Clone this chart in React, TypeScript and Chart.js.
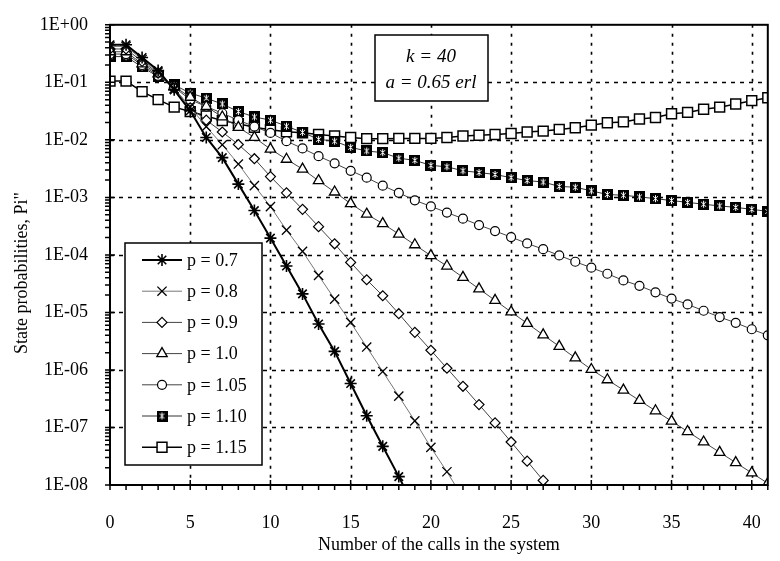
import React, { useEffect, useRef } from 'react';
import { Chart, registerables } from 'chart.js';
import { drawPoint } from 'chart.js/helpers';

Chart.register(...registerables);

// ---------- data ----------
const calls = [0, 1, 2, 3, 4, 5, 6, 7, 8, 9, 10, 11, 12, 13, 14, 15, 16, 17, 18, 19, 20,
  21, 22, 23, 24, 25, 26, 27, 28, 29, 30, 31, 32, 33, 34, 35, 36, 37, 38, 39, 40, 41];

const seriesLabels = ['p = 0.7', 'p = 0.8', 'p = 0.9', 'p = 1.0', 'p = 1.05', 'p = 1.10', 'p = 1.15'];

const p070 = [0.45, 0.45, 0.27, 0.16, 0.074, 0.032, 0.011, 0.0049, 0.0017, 5.9e-4, 1.96e-4, 6.4e-5,
  2.1e-5, 6.3e-6, 2.1e-6, 5.8e-7, 1.6e-7, 4.7e-8, 1.4e-8, 3.9e-9];
const p080 = [0.42, 0.42, 0.25, 0.15, 0.078, 0.037, 0.017, 0.0082, 0.0038, 0.0016, 6.9e-4, 2.7e-4,
  1.15e-4, 4.4e-5, 1.7e-5, 6.7e-6, 2.5e-6, 9.4e-7, 3.5e-7, 1.3e-7, 4.5e-8, 1.7e-8, 6.0e-9];
const p090 = [0.38, 0.38, 0.23, 0.145, 0.08, 0.036, 0.022, 0.0137, 0.0083, 0.0047, 0.0023, 0.0012,
  6.2e-4, 3.1e-4, 1.56e-4, 7.4e-5, 3.7e-5, 1.95e-5, 9.5e-6, 4.5e-6, 2.2e-6, 1.07e-6, 5.2e-7, 2.5e-7,
  1.2e-7, 5.6e-8, 2.6e-8, 1.2e-8, 5.5e-9];
const p100 = [0.34, 0.34, 0.21, 0.14, 0.085, 0.055, 0.038, 0.025, 0.0165, 0.011, 0.0069, 0.0046,
  0.0031, 0.00195, 0.00124, 7.8e-4, 5.1e-4, 3.5e-4, 2.3e-4, 1.5e-4, 9.7e-5, 6.4e-5, 4.07e-5, 2.57e-5,
  1.62e-5, 1.02e-5, 6.46e-6, 4.07e-6, 2.57e-6, 1.62e-6, 1.02e-6, 6.76e-7, 4.47e-7, 2.95e-7, 1.95e-7,
  1.29e-7, 8.5e-8, 5.6e-8, 3.7e-8, 2.45e-8, 1.62e-8, 1.07e-8];
const p105 = [0.31, 0.31, 0.2, 0.13, 0.082, 0.05, 0.038, 0.029, 0.022, 0.017, 0.0132, 0.0095,
  0.0071, 0.0052, 0.0039, 0.0029, 0.0022, 0.0016, 0.0012, 8.9e-4, 6.97e-4, 5.45e-4, 4.27e-4, 3.3e-4,
  2.6e-4, 2.04e-4, 1.58e-4, 1.26e-4, 9.8e-5, 7.6e-5, 6.0e-5, 4.7e-5, 3.6e-5, 2.9e-5, 2.24e-5,
  1.74e-5, 1.38e-5, 1.07e-5, 8.3e-6, 6.6e-6, 5.1e-6, 4.0e-6];
const p110 = [0.28, 0.28, 0.185, 0.125, 0.09, 0.065, 0.053, 0.042, 0.031, 0.025, 0.022, 0.0173,
  0.0135, 0.0102, 0.0095, 0.0074, 0.0064, 0.006, 0.0048, 0.0044, 0.0036, 0.0034, 0.0029, 0.0027,
  0.0025, 0.0022, 0.00196, 0.00185, 0.00155, 0.0015, 0.0013, 0.00112, 0.00109, 0.00102, 9.5e-4,
  8.8e-4, 8.2e-4, 7.6e-4, 7.1e-4, 6.7e-4, 6.2e-4, 5.7e-4];
const p115 = [0.105, 0.105, 0.069, 0.05, 0.037, 0.031, 0.026, 0.0216, 0.019, 0.0166, 0.015, 0.0138,
  0.0133, 0.0124, 0.0117, 0.011, 0.0105, 0.0105, 0.0106, 0.0106, 0.0106, 0.011, 0.0117, 0.012,
  0.0124, 0.0129, 0.0137, 0.0142, 0.0152, 0.0162, 0.018, 0.0198, 0.0205, 0.023, 0.0245, 0.0285,
  0.03, 0.034, 0.037, 0.042, 0.048, 0.054];

const seriesValues = [p070, p080, p090, p100, p105, p110, p115];

const xTickStep = 5;
const yMin = 1e-8;
const yMax = 1;
const xMax = 41;
const noteLines = ['k = 40', 'a = 0.65 erl'];
const xTitle = 'Number of the calls in the system';
const yTitle = 'State probabilities, Pi"';

// ---------- styles ----------
const FONT = "'Liberation Serif', 'Times New Roman', serif";

function makeStarSquare(): HTMLCanvasElement {
  const c = document.createElement('canvas');
  c.width = 11;
  c.height = 11;
  const m = c.getContext('2d')!;
  m.fillStyle = '#000';
  m.fillRect(0, 0, 11, 11);
  m.strokeStyle = '#fff';
  m.lineWidth = 1;
  m.beginPath();
  m.moveTo(3, 3); m.lineTo(8, 8);
  m.moveTo(8, 3); m.lineTo(3, 8);
  m.moveTo(5.5, 2); m.lineTo(5.5, 9);
  m.stroke();
  return c;
}

function fmtExp(v: number): string {
  const l = Math.log10(v);
  const e = Math.round(l);
  if (Math.abs(l - e) > 1e-6) return '';
  const a = Math.abs(e);
  return '1E' + (e < 0 ? '-' : '+') + (a < 10 ? '0' : '') + a;
}

export default function App() {
  const ref = useRef<HTMLCanvasElement>(null);

  useEffect(() => {
    const canvas = ref.current!;
    const starSquare = makeStarSquare();

    const styles: any[] = [
      { pointStyle: 'star', radius: 6, bw: 1.6, bg: '#000', line: '#000', lw: 2 },
      { pointStyle: 'crossRot', radius: 6.5, bw: 1.3, bg: '#000', line: '#777', lw: 1 },
      { pointStyle: 'rectRot', radius: 5, bw: 1.2, bg: '#fff', line: '#444', lw: 1 },
      { pointStyle: 'triangle', radius: 6, bw: 1.3, bg: '#fff', line: '#444', lw: 1 },
      { pointStyle: 'circle', radius: 4.5, bw: 1.2, bg: '#fff', line: '#444', lw: 1 },
      { pointStyle: starSquare, radius: 6, bw: 0, bg: '#000', line: '#333', lw: 1 },
      { pointStyle: 'rect', radius: 7, bw: 1.5, bg: '#fff', line: '#000', lw: 1.5 },
    ];

    const datasets = seriesValues.map((vals, si) => ({
      label: seriesLabels[si],
      data: vals.map((v, i) => ({ x: calls[i], y: v })),
      borderColor: styles[si].line,
      borderWidth: styles[si].lw,
      pointStyle: styles[si].pointStyle,
      pointRadius: styles[si].radius,
      pointBorderWidth: styles[si].bw,
      pointBorderColor: '#000',
      pointBackgroundColor: styles[si].bg,
      tension: 0,
      fill: false,
    }));

    const decorPlugin = {
      id: 'decor',
      beforeDatasetsDraw(chart: any) {
        const { ctx, chartArea: a, scales } = chart;
        const x = scales.x;
        const y = scales.y;
        ctx.save();
        ctx.strokeStyle = '#000';
        ctx.lineWidth = 1.6;
        ctx.setLineDash([4, 5]);
        for (let e = -7; e <= -1; e++) {
          const py = Math.round(y.getPixelForValue(Math.pow(10, e))) + 0.5;
          ctx.beginPath(); ctx.moveTo(a.left, py); ctx.lineTo(a.right, py); ctx.stroke();
        }
        ctx.setLineDash([3, 6]);
        for (let v = xTickStep; v < xMax; v += xTickStep) {
          const px = Math.round(x.getPixelForValue(v)) + 0.5;
          ctx.beginPath(); ctx.moveTo(px, a.top); ctx.lineTo(px, a.bottom); ctx.stroke();
        }
        ctx.restore();
      },
      afterDatasetsDraw(chart: any) {
        const { ctx, chartArea: a, scales } = chart;
        const x = scales.x;
        const y = scales.y;
        ctx.save();
        ctx.setLineDash([]);
        ctx.strokeStyle = '#000';
        ctx.lineWidth = 2;
        ctx.strokeRect(a.left, a.top, a.right - a.left, a.bottom - a.top);
        ctx.lineWidth = 1.5;
        ctx.beginPath();
        for (let e = -8; e <= 0; e++) {
          const py = y.getPixelForValue(Math.pow(10, e));
          ctx.moveTo(a.left - 5, py); ctx.lineTo(a.left + 5, py);
          if (e < 0) {
            for (let m = 2; m <= 9; m++) {
              const pm = y.getPixelForValue(m * Math.pow(10, e));
              ctx.moveTo(a.left - 5, pm); ctx.lineTo(a.left, pm);
            }
          }
        }
        for (let v = 0; v <= xMax; v++) {
          const px = x.getPixelForValue(v);
          if (v % xTickStep === 0) {
            ctx.moveTo(px, a.bottom - 5); ctx.lineTo(px, a.bottom + 5);
          } else {
            ctx.moveTo(px, a.bottom); ctx.lineTo(px, a.bottom + 5);
          }
        }
        ctx.stroke();

        // annotation box
        ctx.fillStyle = '#fff';
        ctx.fillRect(375, 35, 113, 66);
        ctx.lineWidth = 1.5;
        ctx.strokeRect(375, 35, 113, 66);
        ctx.fillStyle = '#000';
        ctx.font = `italic 19px ${FONT}`;
        ctx.textAlign = 'center';
        ctx.textBaseline = 'middle';
        ctx.fillText(noteLines[0], 431, 57);
        ctx.fillText(noteLines[1], 431, 83);

        // legend
        ctx.fillStyle = '#fff';
        ctx.fillRect(125, 243, 137, 222);
        ctx.strokeStyle = '#000';
        ctx.lineWidth = 1.5;
        ctx.strokeRect(125, 243, 137, 222);
        ctx.font = `18px ${FONT}`;
        ctx.textAlign = 'left';
        ctx.textBaseline = 'middle';
        chart.data.datasets.forEach((ds: any, i: number) => {
          const ly = 260 + i * 31.2;
          ctx.strokeStyle = ds.borderColor;
          ctx.lineWidth = ds.borderWidth;
          ctx.beginPath(); ctx.moveTo(142, ly); ctx.lineTo(182, ly); ctx.stroke();
          ctx.strokeStyle = '#000';
          ctx.fillStyle = ds.pointBackgroundColor;
          ctx.lineWidth = ds.pointBorderWidth;
          drawPoint(ctx, { pointStyle: ds.pointStyle, rotation: 0, radius: ds.pointRadius, borderWidth: ds.pointBorderWidth }, 162, ly);
          ctx.fillStyle = '#000';
          ctx.fillText(ds.label, 187, ly + 1);
        });

        // y title
        ctx.save();
        ctx.translate(22, 273);
        ctx.rotate(-Math.PI / 2);
        ctx.font = `18px ${FONT}`;
        ctx.textAlign = 'center';
        ctx.textBaseline = 'middle';
        ctx.fillStyle = '#000';
        ctx.fillText(yTitle, 0, 0);
        ctx.restore();

        ctx.restore();
      },
    };

    const chart = new Chart(canvas, {
      type: 'line',
      data: { datasets },
      options: {
        animation: false,
        responsive: false,
        devicePixelRatio: 1,
        layout: { padding: { left: 0, right: 10, top: 19, bottom: 0 } },
        plugins: { legend: { display: false }, tooltip: { enabled: false } },
        scales: {
          x: {
            type: 'linear',
            min: 0,
            max: xMax,
            grid: { display: false },
            border: { display: false },
            ticks: {
              stepSize: xTickStep,
              includeBounds: false,
              autoSkip: false,
              maxRotation: 0,
              padding: 19,
              color: '#000',
              font: { family: FONT, size: 18 },
              callback: (v: any) => String(v),
            },
            title: {
              display: true,
              text: xTitle,
              color: '#000',
              font: { family: FONT, size: 18 },
              padding: { top: 0, bottom: 5 },
            },
            afterFit: (s: any) => { s.height = 76; },
          },
          y: {
            type: 'logarithmic',
            min: yMin,
            max: yMax,
            grid: { display: false },
            border: { display: false },
            ticks: {
              autoSkip: false,
              padding: 14,
              color: '#000',
              font: { family: FONT, size: 18 },
              callback: (v: any) => fmtExp(Number(v)),
            },
            afterFit: (s: any) => { s.width = 110; },
          },
        },
      } as any,
      plugins: [decorPlugin],
    });
    return () => chart.destroy();
  }, []);

  return (
    <div style={{ position: 'absolute', left: 0, top: 0, width: 780, height: 561, background: '#fff' }}>
      <canvas ref={ref} width={780} height={561} style={{ display: 'block' }} />
    </div>
  );
}
